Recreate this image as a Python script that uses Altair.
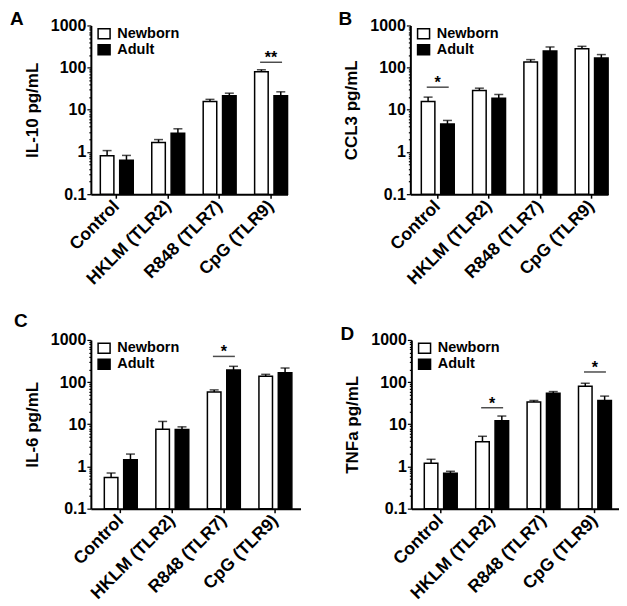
import altair as alt
import pandas as pd

FONT = "Liberation Sans"

categories = ["Control", "HKLM (TLR2)", "R848 (TLR7)", "CpG (TLR9)"]
groups = ["Newborn", "Adult"]

# Panel A: IL-10
il10_newborn = [0.82, 1.69, 15.8, 80]
il10_newborn_err = [1.08, 1.97, 17.7, 89]
il10_adult = [0.64, 2.8, 21.5, 21.5]
il10_adult_err = [0.83, 3.55, 24.8, 26.7]
il10_sig_cat = ["CpG (TLR9)"]
il10_sig_y = [134]
il10_sig_txt = ["**"]

# Panel B: CCL3
ccl3_newborn = [15.8, 28.8, 136, 282]
ccl3_newborn_err = [20, 32.6, 155, 320]
ccl3_adult = [4.6, 18.9, 248, 169]
ccl3_adult_err = [5.6, 23.1, 309, 204]
ccl3_sig_cat = ["Control"]
ccl3_sig_y = [34.4]
ccl3_sig_txt = ["*"]

# Panel C: IL-6
il6_newborn = [0.55, 7.6, 58, 138]
il6_newborn_err = [0.70, 11.7, 65.5, 153]
il6_adult = [1.45, 7.5, 194, 167]
il6_adult_err = [1.97, 8.7, 237, 216]
il6_sig_cat = ["R848 (TLR7)"]
il6_sig_y = [407]
il6_sig_txt = ["*"]

# Panel D: TNFa
tnfa_newborn = [1.19, 3.85, 33.7, 80]
tnfa_newborn_err = [1.48, 5.2, 36.7, 94]
tnfa_adult = [0.69, 12.2, 54.8, 36.7]
tnfa_adult_err = [0.77, 15.7, 59.7, 46.6]
tnfa_sig_cat = ["HKLM (TLR2)", "CpG (TLR9)"]
tnfa_sig_y = [24.7, 174]
tnfa_sig_txt = ["*", "*"]

major_ticks = [0.1, 1, 10, 100, 1000]
minor_ticks = [m * d for d in [0.1, 1, 10, 100] for m in range(2, 10)]
all_ticks = sorted(major_ticks + minor_ticks)

IS_MAJOR = "abs(log(datum.value)/LN10 - round(log(datum.value)/LN10)) < 0.01"


def panel(letter, ytitle, nb, nb_err, ad, ad_err, sig_cat, sig_y, sig_txt,
          width, height, pad_outer, align, letter_dx, letter_dy):
    df = pd.DataFrame({
        "category": categories * 2,
        "group": ["Newborn"] * 4 + ["Adult"] * 4,
        "value": nb + ad,
        "upper": nb_err + ad_err,
        "base": [0.1] * 8,
    })
    sig = pd.DataFrame({"category": sig_cat, "y": sig_y, "txt": sig_txt})

    xaxis = alt.Axis(
        labelAngle=-45, labelAlign="right", labelBaseline="middle",
        labelFont=FONT, labelFontSize=17.5, labelFontWeight="bold",
        labelColor="black", labelPadding=5, tickSize=4, tickWidth=1.5,
        tickColor="black", domainColor="black", domainWidth=2,
        title=None, grid=False,
    )
    xscale = alt.Scale(domain=categories, paddingInner=0.36,
                       paddingOuter=pad_outer, align=align)
    x = alt.X("category:N", scale=xscale, sort=categories, axis=xaxis)
    xoff = alt.XOffset("group:N", sort=groups,
                       scale=alt.Scale(domain=groups, paddingInner=0.3, paddingOuter=0))

    yaxis = alt.Axis(
        values=all_ticks, format="~g",
        labelExpr=IS_MAJOR + " ? datum.label : ''",
        tickSize={"condition": {"test": IS_MAJOR, "value": 4}, "value": 2},
        tickWidth=1.2, tickColor="black", domainColor="black", domainWidth=2,
        labelFont=FONT, labelFontSize=16, labelFontWeight="bold",
        labelColor="black", labelPadding=1, labelOverlap=False,
        titleFont=FONT, titleFontSize=17, titleFontWeight="bold",
        titleColor="black", titlePadding=9, grid=False,
    )
    yscale = alt.Scale(type="log", domain=[0.1, 1000], nice=False)

    def Y(field):
        return alt.Y(field, scale=yscale, axis=yaxis, title=ytitle)

    legend = alt.Legend(
        title=None, orient="none", legendX=6, legendY=1, direction="vertical",
        symbolType="M-1.2,-1H1.2V1H-1.2Z", symbolSize=100,
        symbolStrokeColor="black", symbolStrokeWidth=1.5,
        labelFont=FONT, labelFontSize=14.5, labelFontWeight="bold",
        labelColor="black", labelOffset=6, rowPadding=-6, padding=0,
    )

    base = alt.Chart(df)
    bars = base.mark_bar(stroke="black", strokeWidth=1.5).encode(
        x=x, xOffset=xoff, y=Y("value:Q"), y2="base:Q",
        fill=alt.Fill("group:N", sort=groups,
                      scale=alt.Scale(domain=groups, range=["white", "black"]),
                      legend=legend),
    )
    err = base.mark_rule(color="black", strokeWidth=1.5).encode(
        x=x, xOffset=xoff, y=Y("value:Q"), y2="upper:Q",
    )
    caps = base.mark_tick(color="black", thickness=1.5, size=9,
                          orient="horizontal").encode(
        x=x, xOffset=xoff, y=Y("upper:Q"),
    )
    sbase = alt.Chart(sig)
    sline = sbase.mark_tick(color="black", thickness=1.5, size=22,
                            orient="horizontal").encode(x=x, y=Y("y:Q"))
    stext = sbase.mark_text(font=FONT, fontSize=16, fontWeight="bold",
                            color="black", baseline="alphabetic", dy=1).encode(
        x=x, y=Y("y:Q"), text="txt:N",
    )
    return alt.layer(bars, err, caps, sline, stext).properties(
        width=width, height=height,
        title=alt.TitleParams(letter, anchor="start", frame="group",
                              font=FONT, fontSize=19, fontWeight="bold",
                              color="black", dx=letter_dx, dy=letter_dy,
                              offset=0),
    )


pA = panel("A", "IL-10 pg/mL", il10_newborn, il10_newborn_err, il10_adult,
           il10_adult_err, il10_sig_cat, il10_sig_y, il10_sig_txt,
           197, 169, 0.092, 1.0, -81, 12)
pB = panel("B", "CCL3 pg/mL", ccl3_newborn, ccl3_newborn_err, ccl3_adult,
           ccl3_adult_err, ccl3_sig_cat, ccl3_sig_y, ccl3_sig_txt,
           198, 169, 0.107, 1.0, -72, 12)
pC = panel("C", "IL-6 pg/mL", il6_newborn, il6_newborn_err, il6_adult,
           il6_adult_err, il6_sig_cat, il6_sig_y, il6_sig_txt,
           210, 169, 0.214, 0.61, -77, -1)
pD = panel("D", "TNFa pg/mL", tnfa_newborn, tnfa_newborn_err, tnfa_adult,
           tnfa_adult_err, tnfa_sig_cat, tnfa_sig_y, tnfa_sig_txt,
           208, 169, 0.2, 0.63, -71, 12)

row1 = alt.hconcat(pA, pB, spacing=50).resolve_scale(fill="independent", y="independent").resolve_legend(fill="independent")
row2 = alt.hconcat(pC, pD, spacing=40).resolve_scale(fill="independent", y="independent").resolve_legend(fill="independent")

chart = alt.vconcat(row1, row2, spacing=24).resolve_scale(
    fill="independent", y="independent"
).resolve_legend(fill="independent").properties(
    padding={"left": 2, "top": 2, "right": 0, "bottom": 0},
    background="white",
).configure_view(stroke=None)

chart.save("out.html", embed_options={"renderer": "svg", "actions": False})
